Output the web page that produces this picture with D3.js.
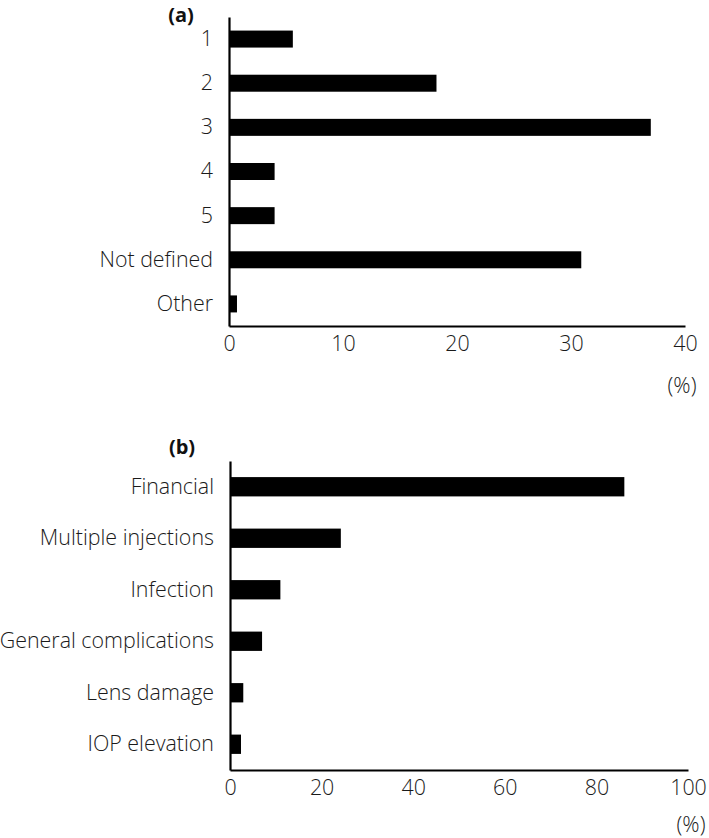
<!DOCTYPE html>
<html>
<head>
<meta charset="utf-8">
<script src="https://cdn.jsdelivr.net/npm/d3@7"></script>
<style>
  html, body { margin: 0; padding: 0; background: #fff; }
  svg { display: block; }
  .lbl { font-family: "Open Sans", sans-serif; font-size: 21.4px; font-weight: 300; fill: #1a1a1a; }
  .ttl { font-family: "Open Sans", sans-serif; font-size: 20px; font-weight: 700; fill: #111; }
</style>
</head>
<body>
<script>
// ---- Data ----
const catsA = ["1", "2", "3", "4", "5", "Not defined", "Other"];
const valsA = [5.6, 18.2, 37.0, 4.0, 4.0, 30.9, 0.7];
const ticksA = [0, 10, 20, 30, 40];

const catsB = ["Financial", "Multiple injections", "Infection", "General complications", "Lens damage", "IOP elevation"];
const valsB = [86.1, 24.2, 11.0, 7.0, 2.9, 2.4];
const ticksB = [0, 20, 40, 60, 80, 100];

const W = 709, H = 838;
const svg = d3.select("body").append("svg").attr("width", W).attr("height", H);

function panel(cfg) {
  const g = svg.append("g");
  const x = d3.scaleLinear().domain([0, cfg.max]).range([cfg.x0, cfg.x1]);
  const y = d3.scaleBand().domain(cfg.cats).range([cfg.y0, cfg.y1])
    .paddingInner(cfg.pad).paddingOuter(cfg.pad / 2);

  // bars
  g.selectAll("rect.bar").data(cfg.cats).join("rect")
    .attr("class", "bar")
    .attr("x", x(0))
    .attr("y", d => y(d))
    .attr("width", (d, i) => x(cfg.vals[i]) - x(0))
    .attr("height", y.bandwidth())
    .attr("fill", "#000");

  // x axis
  const ax = g.append("g").attr("transform", `translate(0,${cfg.y1})`)
    .call(d3.axisBottom(x).tickValues(cfg.ticks).tickSize(0).tickPadding(cfg.xpad).tickFormat(d3.format("d")));
  ax.select(".domain").attr("stroke", "#000").attr("stroke-width", 2.2);
  ax.attr("fill", null).attr("font-size", null).attr("font-family", null);
  ax.selectAll("text").attr("class", "lbl");

  // y axis
  const ay = g.append("g").attr("transform", `translate(${cfg.x0},0)`)
    .call(d3.axisLeft(y).tickSize(0).tickPadding(16));
  ay.select(".domain").attr("stroke", "#000").attr("stroke-width", 2.2);
  ay.attr("fill", null).attr("font-size", null).attr("font-family", null);
  ay.selectAll("text").attr("class", "lbl");

  // panel title
  g.append("text").attr("class", "ttl").attr("x", cfg.tx).attr("y", cfg.ty)
    .attr("text-anchor", "middle").attr("dy", "0.35em").text(cfg.title);
  // unit
  g.append("text").attr("class", "lbl").attr("x", cfg.ux).attr("y", cfg.uy)
    .attr("text-anchor", "middle").attr("dy", "0.35em").text("(%)");
}

panel({ cats: catsA, vals: valsA, ticks: ticksA, max: 40,
        x0: 229, x1: 685, y0: 17, y1: 326, pad: 0.615, xpad: 10,
        title: "(a)", tx: 181, ty: 15, ux: 682, uy: 386 });

panel({ cats: catsB, vals: valsB, ticks: ticksB, max: 100,
        x0: 230, x1: 688, y0: 461, y1: 770, pad: 0.625, xpad: 10,
        title: "(b)", tx: 182, ty: 447, ux: 691, uy: 825 });
</script>
</body>
</html>
